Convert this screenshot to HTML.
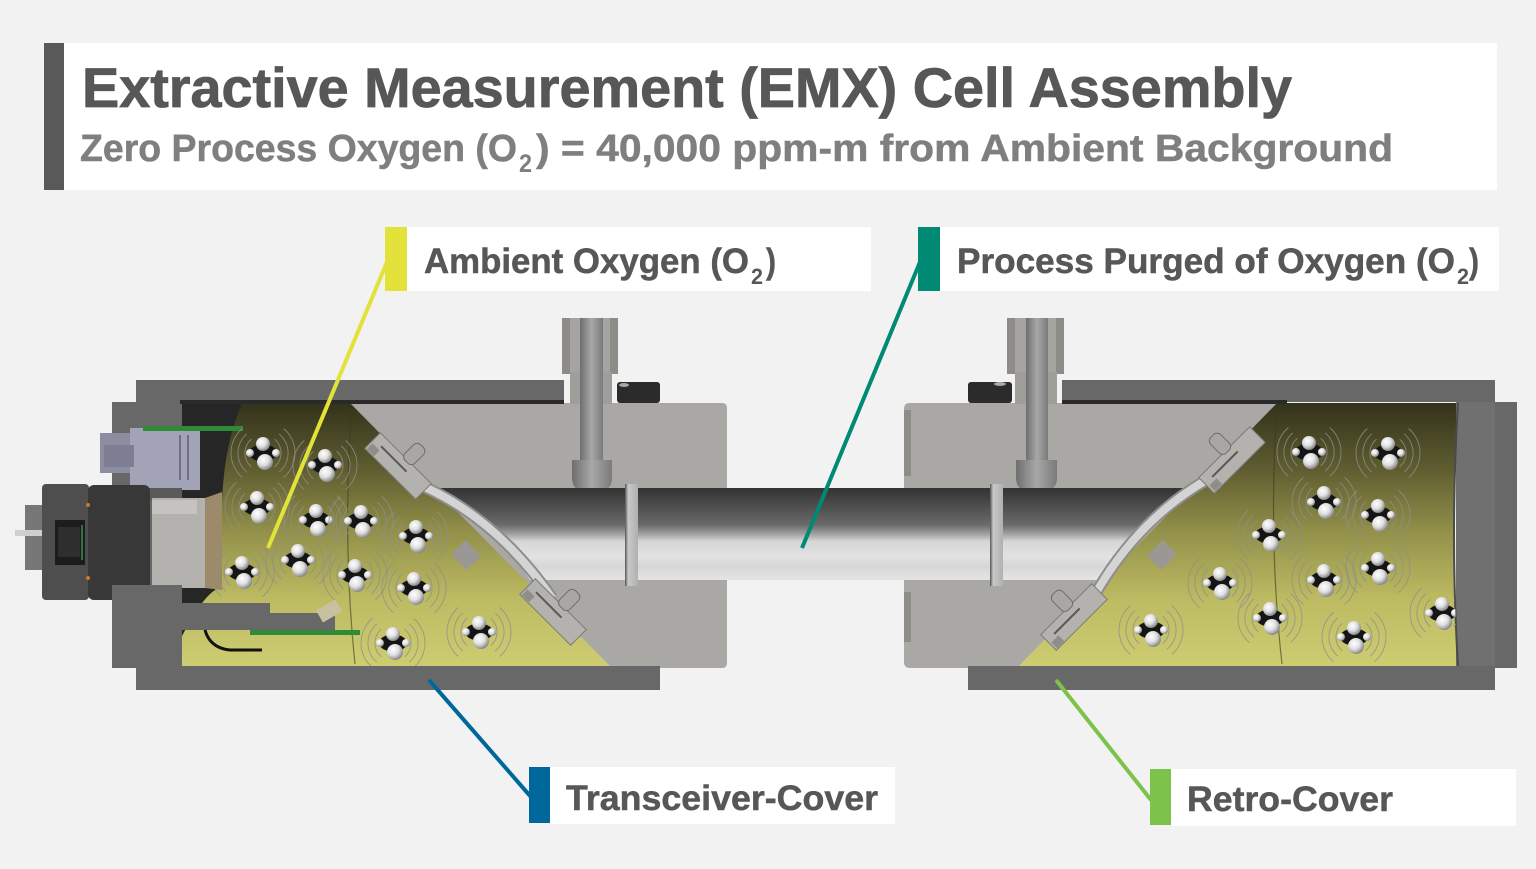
<!DOCTYPE html>
<html><head><meta charset="utf-8">
<style>
html,body{margin:0;padding:0;background:#f2f2f2;}
svg{display:block;}
text{font-family:"Liberation Sans",sans-serif;font-weight:bold;}
</style></head><body>
<svg width="1536" height="869" viewBox="0 0 1536 869" xmlns="http://www.w3.org/2000/svg">
<defs>
 <linearGradient id="yl" x1="0" y1="403" x2="0" y2="668" gradientUnits="userSpaceOnUse">
  <stop offset="0" stop-color="#33321b"/>
  <stop offset="0.25" stop-color="#5f5d30"/>
  <stop offset="0.5" stop-color="#95934b"/>
  <stop offset="0.75" stop-color="#bebc63"/>
  <stop offset="1" stop-color="#cfcd72"/>
 </linearGradient>
 <linearGradient id="tube" x1="0" y1="488" x2="0" y2="580" gradientUnits="userSpaceOnUse">
  <stop offset="0" stop-color="#333"/>
  <stop offset="0.2" stop-color="#4e4e4e"/>
  <stop offset="0.4" stop-color="#6a6a6a"/>
  <stop offset="0.5" stop-color="#a0a0a0"/>
  <stop offset="0.58" stop-color="#d6d6d6"/>
  <stop offset="0.75" stop-color="#e2e2e2"/>
  <stop offset="0.85" stop-color="#d6d6d6"/>
  <stop offset="1" stop-color="#e4e4e4"/>
 </linearGradient>
 <linearGradient id="chan" x1="0" x2="1" y1="0" y2="0">
  <stop offset="0" stop-color="#6e6e6e"/><stop offset="0.5" stop-color="#a8a8a8"/><stop offset="1" stop-color="#7a7a7a"/>
 </linearGradient>
 <linearGradient id="ring" x1="0" x2="1" y1="0" y2="0">
  <stop offset="0" stop-color="#555"/><stop offset="0.25" stop-color="#c8c8c8"/><stop offset="1" stop-color="#b0b0b0"/>
 </linearGradient>
 <radialGradient id="sph" cx="0.38" cy="0.35" r="0.7">
  <stop offset="0" stop-color="#ffffff"/><stop offset="0.5" stop-color="#e0e0e0"/><stop offset="1" stop-color="#7a7a7a"/>
 </radialGradient>
 <g id="arcs" fill="none" stroke="#8e8e8e" stroke-width="0.9" opacity="0.85">
   <path d="M-11.6,-13.8 A18,18 0 0 0 -11.6,13.8 M-16.1,-19.2 A25,25 0 0 0 -16.1,19.2 M-20.6,-24.5 A32,32 0 0 0 -20.6,24.5 M11.6,-13.8 A18,18 0 0 1 11.6,13.8 M16.1,-19.2 A25,25 0 0 1 16.1,19.2 M20.6,-24.5 A32,32 0 0 1 20.6,24.5"/>
 </g>
 <g id="mol">
   <use href="#arcs"/>
   <ellipse cx="0" cy="0" rx="14" ry="8.5" fill="#151515"/>
   <circle cx="-13" cy="0" r="4" fill="url(#sph)"/>
   <circle cx="13" cy="0" r="4" fill="url(#sph)"/>
   <circle cx="0" cy="-9" r="7" fill="url(#sph)"/>
   <circle cx="2" cy="9" r="8" fill="url(#sph)"/>
 </g>
 <g id="holder">
   <rect x="-36" y="-11" width="72" height="22" fill="#b4b2ae" stroke="#7d7b78" stroke-width="1"/>
   <rect x="-4" y="-31" width="14" height="22" rx="5" fill="#a9a7a3" stroke="#6f6d6a" stroke-width="1"/>
   <line x1="-26" y1="-2" x2="10" y2="-2" stroke="#5a5856" stroke-width="2"/>
   <rect x="-34" y="2" width="10" height="8" fill="#8f8d8a"/>
 </g>
 <clipPath id="clipL"><path d="M242,404 L352,404 L612,666 L180,666 L180,640 Q200,600 215,590 L222,500 Q225,440 242,404 Z"/></clipPath>
 <clipPath id="clipR"><path d="M1277,403 L1458,403 Q1450,535 1458,666 L1017,668 Z"/></clipPath>
</defs>

<rect width="1536" height="869" fill="#f2f2f2"/>

<!-- Title box -->
<rect x="44" y="43" width="1453" height="147" fill="#ffffff"/>
<rect x="44" y="43" width="20" height="147" fill="#595959"/>
<text x="82" y="107" font-size="56" fill="#575757" stroke="#575757" stroke-width="0.8" textLength="1210" lengthAdjust="spacingAndGlyphs">Extractive Measurement (EMX) Cell Assembly</text>
<text x="80" y="161" font-size="38" fill="#7f7f7f" stroke="#7f7f7f" stroke-width="0.5" textLength="437" lengthAdjust="spacingAndGlyphs">Zero Process Oxygen (O</text>
<text x="519" y="172" font-size="25" fill="#7f7f7f" textLength="13" lengthAdjust="spacingAndGlyphs">2</text>
<text x="536" y="161" font-size="38" fill="#7f7f7f" stroke="#7f7f7f" stroke-width="0.5" textLength="857" lengthAdjust="spacingAndGlyphs">) = 40,000 ppm-m from Ambient Background</text>

<!-- ============ LEFT ASSEMBLY ============ -->
<rect x="180" y="402" width="180" height="264" fill="#262626"/>
<rect x="112" y="402" width="70" height="266" fill="#686868"/>
<path d="M242,404 L352,404 L612,666 L180,666 L180,640 Q200,600 215,590 L222,500 Q225,440 242,404 Z" fill="url(#yl)"/>
<path d="M352,404 Q342,540 355,664" fill="none" stroke="#3a3a20" stroke-width="1.2" opacity="0.6"/>
<!-- lavender connector -->
<rect x="100" y="433" width="55" height="40" fill="#8d8da2"/>
<rect x="130" y="428" width="70" height="62" fill="#a3a3b8"/>
<rect x="104" y="445" width="30" height="22" fill="#7e7e92"/>
<line x1="180" y1="435" x2="180" y2="480" stroke="#6f6f85" stroke-width="2"/>
<line x1="188" y1="435" x2="188" y2="480" stroke="#6f6f85" stroke-width="2"/>
<rect x="143" y="426" width="100" height="5" fill="#2f8a3a"/>
<rect x="112" y="488" width="70" height="12" fill="#5a5a5a"/>
<!-- hub -->
<rect x="25" y="505" width="18" height="65" fill="#777"/>
<rect x="15" y="530" width="30" height="6" fill="#cfcfcf"/>
<rect x="42" y="484" width="47" height="116" rx="4" fill="#4e4e4e"/>
<rect x="88" y="485" width="62" height="115" rx="6" fill="#383838"/>
<rect x="55" y="520" width="30" height="45" fill="#1c1c1c"/>
<rect x="58" y="527" width="22" height="30" fill="#2e2e2e"/>
<line x1="82" y1="525" x2="82" y2="560" stroke="#3a8a4a" stroke-width="1.5"/>
<circle cx="88" cy="505" r="2" fill="#c77a2a"/>
<circle cx="88" cy="578" r="2" fill="#c77a2a"/>
<!-- lens holder -->
<rect x="152" y="498" width="55" height="90" fill="#b3b1ad"/>
<rect x="152" y="500" width="45" height="14" fill="#c5c3bf"/>
<path d="M205,498 L222,492 L222,590 L205,588 Z" fill="#9c8a6a"/>
<!-- bottom flange parts -->
<rect x="112" y="585" width="70" height="83" fill="#686868"/>
<path d="M180,603 L270,603 L270,613 L335,613 L335,630 L180,630 Z" fill="#686868"/>
<path d="M205,630 Q210,648 230,650 L262,650" fill="none" stroke="#111" stroke-width="3"/>
<rect x="250" y="630" width="110" height="5" fill="#2f8a3a"/>
<rect x="318" y="604" width="22" height="14" fill="#c8c0a0" transform="rotate(-30 329 611)"/>

<!-- left body -->
<path d="M350,403 L722,403 Q727,403 727,408 L727,663 Q727,668 722,668 L612,668 Z" fill="#aaa8a4"/>
<rect x="136" y="380" width="428" height="22" fill="#686868"/>
<rect x="180" y="400" width="384" height="4" fill="#2a2a2a"/>
<!-- fitting left -->
<rect x="562" y="318" width="56" height="56" rx="4" fill="#a6a4a1"/>
<rect x="562" y="318" width="8" height="56" fill="#8e8c89"/>
<rect x="610" y="318" width="8" height="56" fill="#8e8c89"/>
<rect x="570" y="372" width="42" height="32" fill="#a09e9b"/>
<rect x="580" y="318" width="23" height="145" fill="url(#chan)"/>
<path d="M572,460 L612,460 L612,478 Q612,493 592,493 Q572,493 572,478 Z" fill="url(#chan)"/>
<rect x="617" y="382" width="43" height="21" rx="3" fill="#2b2b2b"/>
<ellipse cx="624" cy="385" rx="5" ry="2" fill="#ddd" opacity="0.7"/>
<rect x="136" y="666" width="524" height="24" fill="#686868"/>

<!-- ============ RIGHT ASSEMBLY ============ -->
<path d="M910,403 L1277,403 L1017,668 L910,668 Q904,668 904,662 L904,409 Q904,403 910,403 Z" fill="#aaa8a4"/>
<rect x="904" y="410" width="7" height="66" fill="#8f8d8a"/>
<rect x="904" y="592" width="7" height="50" fill="#8f8d8a"/>
<path d="M1277,403 L1458,403 Q1450,535 1458,666 L1017,668 Z" fill="url(#yl)"/>
<path d="M1277,404 Q1268,540 1282,664" fill="none" stroke="#3a3a20" stroke-width="1.2" opacity="0.6"/>
<rect x="1456" y="402" width="40" height="264" fill="#707070"/>
<path d="M1458,403 Q1450,535 1458,666" fill="none" stroke="#4a4a4a" stroke-width="2"/>
<rect x="1495" y="402" width="22" height="266" fill="#686868"/>
<rect x="1062" y="380" width="433" height="22" fill="#686868"/>
<rect x="1062" y="400" width="225" height="4" fill="#2a2a2a"/>
<rect x="968" y="666" width="527" height="24" fill="#686868"/>
<!-- fitting right -->
<rect x="1007" y="318" width="57" height="56" rx="4" fill="#a6a4a1"/>
<rect x="1007" y="318" width="8" height="56" fill="#8e8c89"/>
<rect x="1056" y="318" width="8" height="56" fill="#8e8c89"/>
<rect x="1015" y="372" width="42" height="32" fill="#a09e9b"/>
<rect x="1026" y="318" width="22" height="145" fill="url(#chan)"/>
<path d="M1016,460 L1057,460 L1057,478 Q1057,493 1036,493 Q1016,493 1016,478 Z" fill="url(#chan)"/>
<rect x="968" y="382" width="44" height="21" rx="3" fill="#2b2b2b"/>
<ellipse cx="1000" cy="384" rx="6" ry="2" fill="#ddd" opacity="0.7"/>

<!-- tube -->
<path d="M418,488 L1195,488 Q1134,518 1105,580 L530,580 Q490,518 418,488 Z" fill="url(#tube)"/>
<rect x="625" y="484" width="13" height="102" fill="url(#ring)"/>
<rect x="990" y="484" width="13" height="102" fill="url(#ring)"/>
<!-- windows -->
<path d="M408,480 Q492,512 552,598" fill="none" stroke="#8d8d8d" stroke-width="12"/>
<path d="M408,480 Q492,512 552,598" fill="none" stroke="#d4d4d4" stroke-width="8"/>
<path d="M1225,470 Q1140,512 1092,600" fill="none" stroke="#8d8d8d" stroke-width="12"/>
<path d="M1225,470 Q1140,512 1092,600" fill="none" stroke="#d4d4d4" stroke-width="8"/>
<rect x="455" y="545" width="22" height="20" fill="#9a9894" transform="rotate(45 466 555)"/>
<rect x="1151" y="545" width="22" height="20" fill="#9a9894" transform="rotate(-45 1162 555)"/>
<!-- holders -->
<use href="#holder" transform="translate(398,466) rotate(45)"/>
<use href="#holder" transform="translate(553,612) rotate(45)"/>
<use href="#holder" transform="translate(1232,460) rotate(-45)"/>
<use href="#holder" transform="translate(1074,617) rotate(-45)"/>

<!-- molecules left -->
<g clip-path="url(#clipL)">
<use href="#mol" x="263" y="453"/><use href="#mol" x="325" y="465"/>
<use href="#mol" x="257" y="507"/><use href="#mol" x="316" y="520"/>
<use href="#mol" x="361" y="521"/><use href="#mol" x="416" y="536"/>
<use href="#mol" x="242" y="572"/><use href="#mol" x="298" y="560"/>
<use href="#mol" x="355" y="575"/><use href="#mol" x="414" y="588"/>
<use href="#mol" x="393" y="643"/><use href="#mol" x="479" y="632"/>
</g>
<!-- molecules right -->
<g clip-path="url(#clipR)">
<use href="#mol" x="1309" y="452"/><use href="#mol" x="1388" y="453"/>
<use href="#mol" x="1324" y="502"/><use href="#mol" x="1378" y="515"/>
<use href="#mol" x="1269" y="535"/><use href="#mol" x="1324" y="580"/>
<use href="#mol" x="1378" y="568"/><use href="#mol" x="1220" y="583"/>
<use href="#mol" x="1270" y="618"/><use href="#mol" x="1151" y="630"/>
<use href="#mol" x="1354" y="637"/><use href="#mol" x="1442" y="613"/>
</g>

<!-- leader lines -->
<line x1="387" y1="262" x2="268" y2="548" stroke="#e2e23a" stroke-width="4"/>
<line x1="920" y1="262" x2="802" y2="548" stroke="#008a73" stroke-width="4"/>
<line x1="429" y1="680" x2="531" y2="797" stroke="#00679a" stroke-width="4"/>
<line x1="1056" y1="680" x2="1151" y2="800" stroke="#7dc24a" stroke-width="4"/>

<!-- labels -->
<rect x="407" y="227" width="464" height="64" fill="#ffffff"/>
<rect x="385" y="227" width="22" height="64" fill="#e2e23a"/>
<text x="424" y="273" font-size="35" fill="#575757" stroke="#575757" stroke-width="0.5" textLength="325" lengthAdjust="spacingAndGlyphs">Ambient Oxygen (O</text>
<text x="751" y="284" font-size="22" fill="#575757" textLength="12" lengthAdjust="spacingAndGlyphs">2</text>
<text x="766" y="273" font-size="35" fill="#575757" stroke="#575757" stroke-width="0.5" textLength="10" lengthAdjust="spacingAndGlyphs">)</text>

<rect x="940" y="227" width="559" height="64" fill="#ffffff"/>
<rect x="918" y="227" width="22" height="64" fill="#008a73"/>
<text x="957" y="273" font-size="35" fill="#575757" stroke="#575757" stroke-width="0.5" textLength="498" lengthAdjust="spacingAndGlyphs">Process Purged of Oxygen (O</text>
<text x="1457" y="284" font-size="22" fill="#575757" textLength="12" lengthAdjust="spacingAndGlyphs">2</text>
<text x="1469" y="273" font-size="35" fill="#575757" stroke="#575757" stroke-width="0.5" textLength="10" lengthAdjust="spacingAndGlyphs">)</text>

<rect x="550" y="767" width="345" height="57" fill="#ffffff"/>
<rect x="529" y="767" width="21" height="56" fill="#00679a"/>
<text x="566" y="810" font-size="35" fill="#575757" stroke="#575757" stroke-width="0.5" textLength="312" lengthAdjust="spacingAndGlyphs">Transceiver-Cover</text>

<rect x="1171" y="769" width="345" height="57" fill="#ffffff"/>
<rect x="1150" y="769" width="21" height="56" fill="#7dc24a"/>
<text x="1187" y="811" font-size="35" fill="#575757" stroke="#575757" stroke-width="0.5" textLength="206" lengthAdjust="spacingAndGlyphs">Retro-Cover</text>
</svg>
</body></html>
